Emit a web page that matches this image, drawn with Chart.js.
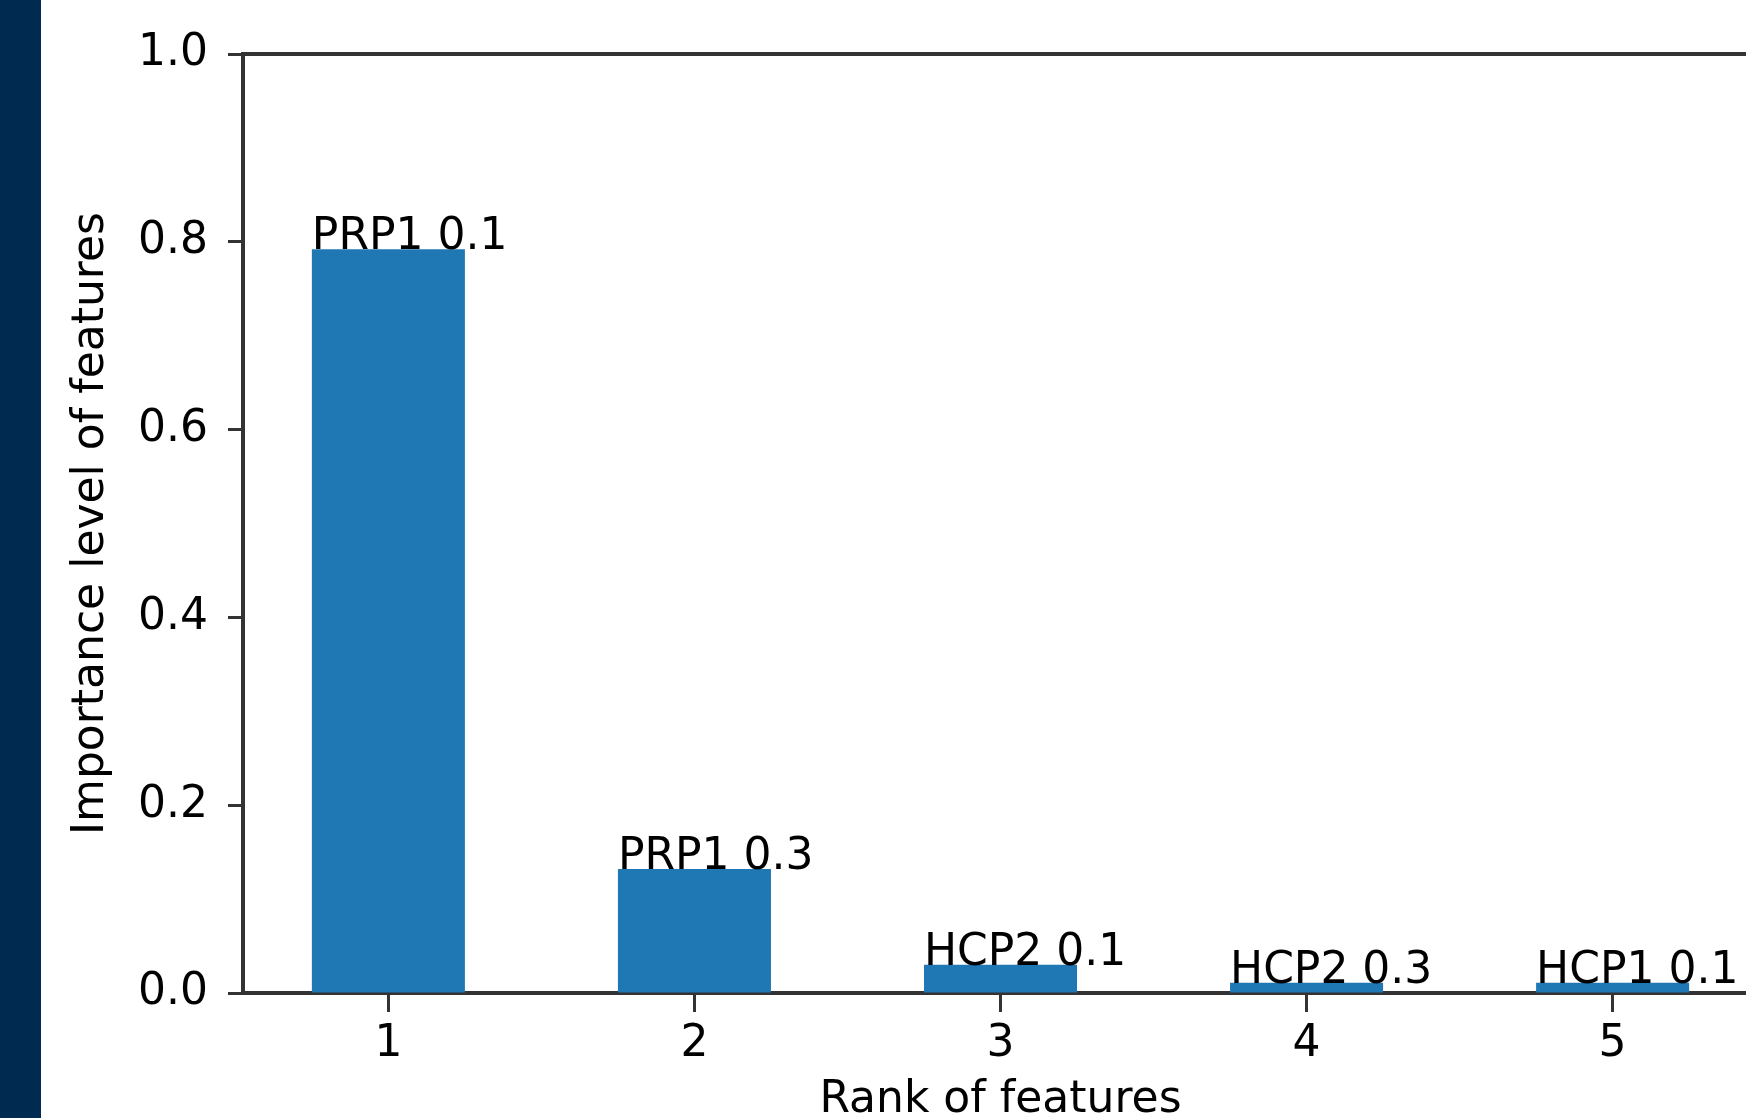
<!DOCTYPE html>
<html>
<head>
<meta charset="utf-8">
<title>Rank of features</title>
<script src="https://cdn.jsdelivr.net/npm/chart.js@4.4.1/dist/chart.umd.min.js"></script>
<style>
  html, body { margin: 0; padding: 0; background: #fff; overflow: hidden; width: 1746px; height: 1118px; }
  #band { position: absolute; left: 0; top: 0; width: 41px; height: 1118px; background: #002a50; }
  #wrap { position: absolute; left: 41px; top: 0; width: 1717px; height: 1127px; }
</style>
</head>
<body>
<div id="band"></div>
<div id="wrap"><canvas id="featureChart"></canvas></div>
<script>
// rank of each feature and how important it is
var ranks = [1, 2, 3, 4, 5];
var importance = [0.792, 0.132, 0.03, 0.011, 0.011];
var featureNames = ["PRP1 0.1", "PRP1 0.3", "HCP2 0.1", "HCP2 0.3", "HCP1 0.1"];
var yTicks = [0, 0.2, 0.4, 0.6, 0.8, 1.0];

var barWidth = 0.5;
var lineColor = "#333333";
var textColor = "#000000";
var fontSize = 44;

Chart.defaults.font.family = "'DejaVu Sans', sans-serif";
Chart.defaults.font.size = fontSize;
Chart.defaults.color = textColor;

// x range like matplotlib: bar edges plus 5% margin
var xLo = ranks[0] - barWidth / 2;
var xHi = ranks[ranks.length - 1] + barWidth / 2;
var xMargin = (xHi - xLo) * 0.05;

// feature name written on top of each bar, starting at its left edge
var barNames = {
    id: "barNames",
    afterDatasetsDraw: function (chart) {
        var ctx = chart.ctx;
        var meta = chart.getDatasetMeta(0);
        ctx.save();
        ctx.font = fontSize + "px 'DejaVu Sans', sans-serif";
        ctx.fillStyle = textColor;
        ctx.textAlign = "left";
        ctx.textBaseline = "alphabetic";
        meta.data.forEach(function (bar, i) {
            ctx.fillText(featureNames[i], bar.x - bar.width / 2, bar.y);
        });
        ctx.restore();
    }
};

new Chart("featureChart", {
    type: "bar",
    data: {
        datasets: [{
            data: ranks.map(function (r, i) { return { x: r, y: importance[i] }; }),
            backgroundColor: "#1f77b4",
            borderWidth: 0,
            categoryPercentage: 1.0,
            barPercentage: barWidth
        }]
    },
    plugins: [barNames],
    options: {
        responsive: true,
        maintainAspectRatio: false,
        animation: false,
        layout: { padding: { top: 54, left: 0, right: 0, bottom: 0 } },
        plugins: {
            legend: { display: false },
            tooltip: { enabled: false }
        },
        scales: {
            x: {
                type: "linear",
                position: "bottom",
                offset: false,
                min: xLo - xMargin,
                max: xHi + xMargin,
                afterBuildTicks: function (scale) {
                    scale.ticks = ranks.map(function (r) { return { value: r }; });
                },
                afterFit: function (scale) { scale.height = 134; },
                ticks: {
                    padding: 6,
                    color: textColor,
                    callback: function (v) { return String(v); }
                },
                grid: {
                    display: true,
                    offset: false,
                    drawOnChartArea: false,
                    drawTicks: true,
                    tickLength: 19,
                    tickWidth: 3,
                    tickColor: lineColor
                },
                border: { display: true, color: lineColor, width: 4 },
                title: {
                    display: true,
                    text: "Rank of features",
                    color: textColor,
                    padding: { top: 0, bottom: 0 }
                }
            },
            // only there to draw the top spine
            x2: {
                type: "linear",
                position: "top",
                display: true,
                afterFit: function (scale) { scale.height = 0; },
                ticks: { display: false },
                grid: { display: false, drawTicks: false },
                border: { display: true, color: lineColor, width: 4 }
            },
            y: {
                min: 0,
                max: 1,
                afterBuildTicks: function (scale) {
                    scale.ticks = yTicks.map(function (v) { return { value: v }; });
                },
                afterFit: function (scale) { scale.width = 202; },
                ticks: {
                    padding: 20,
                    color: textColor,
                    callback: function (v) { return v.toFixed(1); }
                },
                grid: {
                    display: true,
                    drawOnChartArea: false,
                    drawTicks: true,
                    tickLength: 15,
                    tickWidth: 3,
                    tickColor: lineColor
                },
                border: { display: true, color: lineColor, width: 4 },
                title: {
                    display: true,
                    text: "Importance level of features",
                    color: textColor,
                    padding: { top: 24, bottom: 0 }
                }
            }
        }
    }
});
</script>
</body>
</html>
